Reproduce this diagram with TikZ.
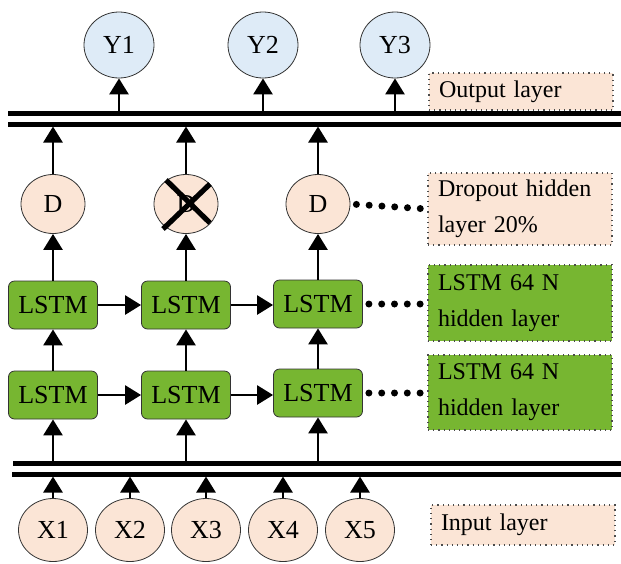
\documentclass[tikz,border=0pt]{standalone}
\usepackage{fontspec}
\setmainfont{Liberation Serif}
\newfontfamily\diagfont{Liberation Serif}
\usepackage{xcolor}
\usepackage{tikz}
\usetikzlibrary{shapes,positioning,calc,arrows.meta}
\definecolor{outblue}{HTML}{DEEBF7}
\definecolor{peach}{HTML}{FBE5D6}
\definecolor{lstmgreen}{HTML}{77B631}

\begin{document}
\begin{tikzpicture}[x=0.5pt,y=-0.5pt,
    every node/.style={font=\diagfont\fontsize{13}{17}\selectfont},
    yout/.style={ellipse,draw=black!80,fill=outblue,minimum width=35pt,minimum height=33pt,inner sep=0pt},
    drop/.style={ellipse,draw=black!80,fill=peach,minimum width=32pt,minimum height=29.5pt,inner sep=0pt},
    xin/.style={ellipse,draw=black!80,fill=peach,minimum width=34.5pt,minimum height=31.5pt,inner sep=0pt},
    cell/.style={draw=black!80,fill=lstmgreen,rounded corners=3pt,minimum width=44.5pt,minimum height=24pt,inner sep=0pt},
    note/.style={draw=black!70,dotted,line width=0.6pt,text width=82pt,align=left,inner xsep=5pt,inner ysep=0pt,minimum width=92pt,font=\diagfont\fontsize{12}{18}\selectfont},
    arr/.style={-{Triangle[length=8pt,width=9.5pt]},line width=1.3pt},
    bus/.style={line width=2.5pt},
    dots/.style={line width=3.5pt,line cap=round,dash pattern=on 0pt off 6.4pt,shorten <=3pt},
    cross/.style={line width=2.6pt}]
    \useasboundingbox (0,0) rectangle (621,563);

    % Output layer
    \node[yout] (y1) at (119,45) {Y1};
    \node[yout] (y2) at (263,45) {Y2};
    \node[yout] (y3) at (395,45) {Y3};
    \node[note,fill=peach,minimum height=18.5pt] (outtxt) at (521,91.5) {Output layer};

    % Upper bus
    \coordinate (topA) at (0,113);
    \coordinate (topB) at (0,126.5);
    \draw[bus] (8,113) -- (621,113);
    \draw[bus] (8,124) -- (621,124);
    \draw[arr] (y1.south |- topA) -- (y1.south);
    \draw[arr] (y2.south |- topA) -- (y2.south);
    \draw[arr] (y3.south |- topA) -- (y3.south);

    % Dropout
    \node[drop] (d1) at (53,204) {D};
    \node[drop] (d2) at (186,204) {D};
    \node[drop] (d3) at (318,204) {D};
    \draw[cross] ([shift={(-20,-24)}]d2.center) -- ([shift={(24,19)}]d2.center);
    \draw[cross] ([shift={(24,-20)}]d2.center) -- ([shift={(-23,25)}]d2.center);
    \node[note,fill=peach,minimum height=36pt] (droptxt) at (520,209) {Dropout hidden\\layer 20\%};
    \draw[dots] (d3.east) -- (droptxt.west);
    \draw[arr] (d1.north) -- (d1.north |- topB);
    \draw[arr] (d2.north) -- (d2.north |- topB);
    \draw[arr] (d3.north) -- (d3.north |- topB);

    % LSTM layers
    \node[cell] (u1) at (53,305) {LSTM};
    \node[cell] (u2) at (186,305) {LSTM};
    \node[cell] (u3) at (318,304) {LSTM};
    \node[cell] (l1) at (53,395) {LSTM};
    \node[cell] (l2) at (186,395) {LSTM};
    \node[cell] (l3) at (318,393) {LSTM};
    \node[note,fill=lstmgreen,minimum height=38pt] (utxt) at (520,303) {LSTM 64 N\\hidden layer};
    \node[note,fill=lstmgreen,minimum height=37.5pt] (ltxt) at (520,392.5) {LSTM 64 N\\hidden layer};
    \draw[dots] (u3.east) -- (u3.east -| utxt.west);
    \draw[dots] (l3.east) -- (l3.east -| ltxt.west);
    \draw[arr] (u1.east) -- (u1.east -| u2.west);
    \draw[arr] (u2.east) -- (u2.east -| u3.west);
    \draw[arr] (l1.east) -- (l1.east -| l2.west);
    \draw[arr] (l2.east) -- (l2.east -| l3.west);
    \draw[arr] (l1) -- (u1);
    \draw[arr] (l2) -- (u2);
    \draw[arr] (l3) -- (u3);
    \draw[arr] (u1) -- (d1);
    \draw[arr] (u2) -- (d2);
    \draw[arr] (u3) -- (d3);

    % Lower bus
    \coordinate (botA) at (0,463);
    \coordinate (botB) at (0,476.5);
    \draw[bus] (13,463) -- (621,463);
    \draw[bus] (12,474) -- (621,474);
    \draw[arr] (l1.south |- botA) -- (l1.south);
    \draw[arr] (l2.south |- botA) -- (l2.south);
    \draw[arr] (l3.south |- botA) -- (l3.south);

    % Input layer
    \node[xin] (x1) at (53,530) {X1};
    \node[xin] (x2) at (130,530) {X2};
    \node[xin] (x3) at (206,530) {X3};
    \node[xin] (x4) at (283,530) {X4};
    \node[xin] (x5) at (360,530) {X5};
    \node[note,fill=peach,minimum height=20pt] (intxt) at (523,525) {Input layer};
    \draw[arr] (x1.north) -- (x1.north |- botB);
    \draw[arr] (x2.north) -- (x2.north |- botB);
    \draw[arr] (x3.north) -- (x3.north |- botB);
    \draw[arr] (x4.north) -- (x4.north |- botB);
    \draw[arr] (x5.north) -- (x5.north |- botB);
\end{tikzpicture}
\end{document}
